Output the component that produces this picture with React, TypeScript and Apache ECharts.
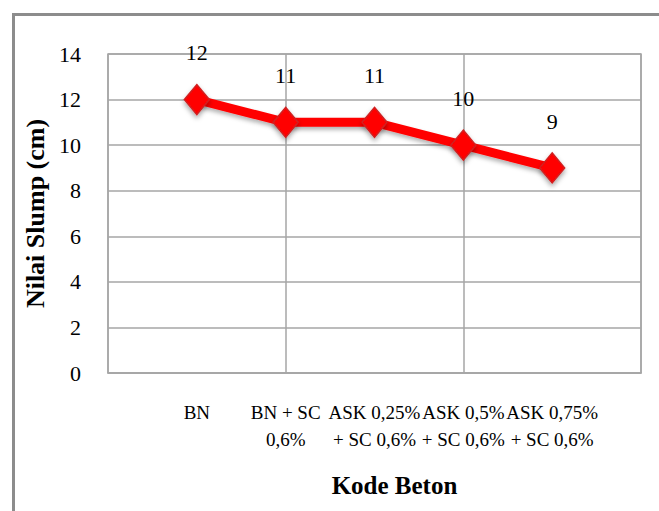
import React, { useEffect, useRef } from "react";
import * as echarts from "echarts";

const categories = ["", "BN", "BN + SC\n0,6%", "ASK 0,25%\n+ SC 0,6%", "ASK 0,5%\n+ SC 0,6%", "ASK 0,75%\n+ SC 0,6%", ""];
const slumpValues: (number | string)[] = ["-", 12, 11, 11, 10, 9, "-"];
const yTicks = { min: 0, max: 14, interval: 2 };
const yTitle = "Nilai Slump (cm)";
const xTitle = "Kode Beton";

const FONT = "Liberation Serif";

export default function App() {
  const ref = useRef<HTMLDivElement>(null);
  useEffect(() => {
    if (!ref.current) return;
    const chart = echarts.init(ref.current, null, { renderer: "svg" });
    chart.setOption({
      animation: false,
      backgroundColor: "#ffffff",
      textStyle: { fontFamily: FONT },
      graphic: [
        {
          type: "polyline",
          shape: { points: [[13.5, 515], [13.5, 14.5], [665, 14.5]] },
          style: { stroke: "#8c8c8c", lineWidth: 3, fill: null },
          silent: true,
        },
      ],
      grid: {
        left: 108,
        right: 18,
        top: 54,
        bottom: 138,
        show: true,
        borderColor: "#a6a6a6",
        borderWidth: 1.5,
      },
      xAxis: {
        type: "category",
        data: categories,
        boundaryGap: false,
        axisLine: { show: true, lineStyle: { color: "#a6a6a6", width: 1.5 } },
        axisTick: { show: false },
        axisLabel: {
          interval: 0,
          hideOverlap: false,
          margin: 26,
          fontFamily: FONT,
          fontSize: 19,
          lineHeight: 27,
          color: "#000",
        },
        splitLine: {
          show: true,
          interval: (index: number) => index % 2 === 0,
          lineStyle: { color: "#a6a6a6", width: 1.5 },
        },
        name: xTitle,
        nameLocation: "middle",
        nameGap: 100,
        nameTextStyle: {
          fontFamily: FONT,
          fontSize: 25,
          fontWeight: "bold",
          color: "#000",
          padding: [0, 0, 0, 40],
        },
      },
      yAxis: {
        type: "value",
        min: yTicks.min,
        max: yTicks.max,
        interval: yTicks.interval,
        axisLine: { show: false },
        axisTick: { show: false },
        axisLabel: { margin: 27, fontFamily: FONT, fontSize: 22, color: "#000" },
        splitLine: { show: true, lineStyle: { color: "#a6a6a6", width: 1.5 } },
        name: yTitle,
        nameLocation: "middle",
        nameGap: 58,
        nameRotate: 90,
        nameTextStyle: { fontFamily: FONT, fontSize: 26, fontWeight: "bold", color: "#000" },
      },
      series: [
        {
          type: "line",
          data: slumpValues,
          connectNulls: false,
          symbol: "diamond",
          symbolSize: [25, 30],
          showAllSymbol: true,
          lineStyle: {
            color: "#ff0000",
            width: 9,
            shadowBlur: 4,
            shadowColor: "rgba(0,0,0,0.3)",
            shadowOffsetY: 3,
          },
          itemStyle: {
            color: "#ff0000",
            borderColor: "#d02020",
            borderWidth: 1.5,
            shadowBlur: 5,
            shadowColor: "rgba(0,0,0,0.35)",
            shadowOffsetY: 3,
          },
          label: {
            show: true,
            position: "top",
            distance: 20,
            fontFamily: FONT,
            fontSize: 22,
            color: "#000",
          },
          z: 5,
        },
      ],
    });
    return () => chart.dispose();
  }, []);
  return (
    <div
      ref={ref}
      style={{ position: "fixed", left: 0, top: 0, width: 659, height: 511, background: "#fff" }}
    />
  );
}
